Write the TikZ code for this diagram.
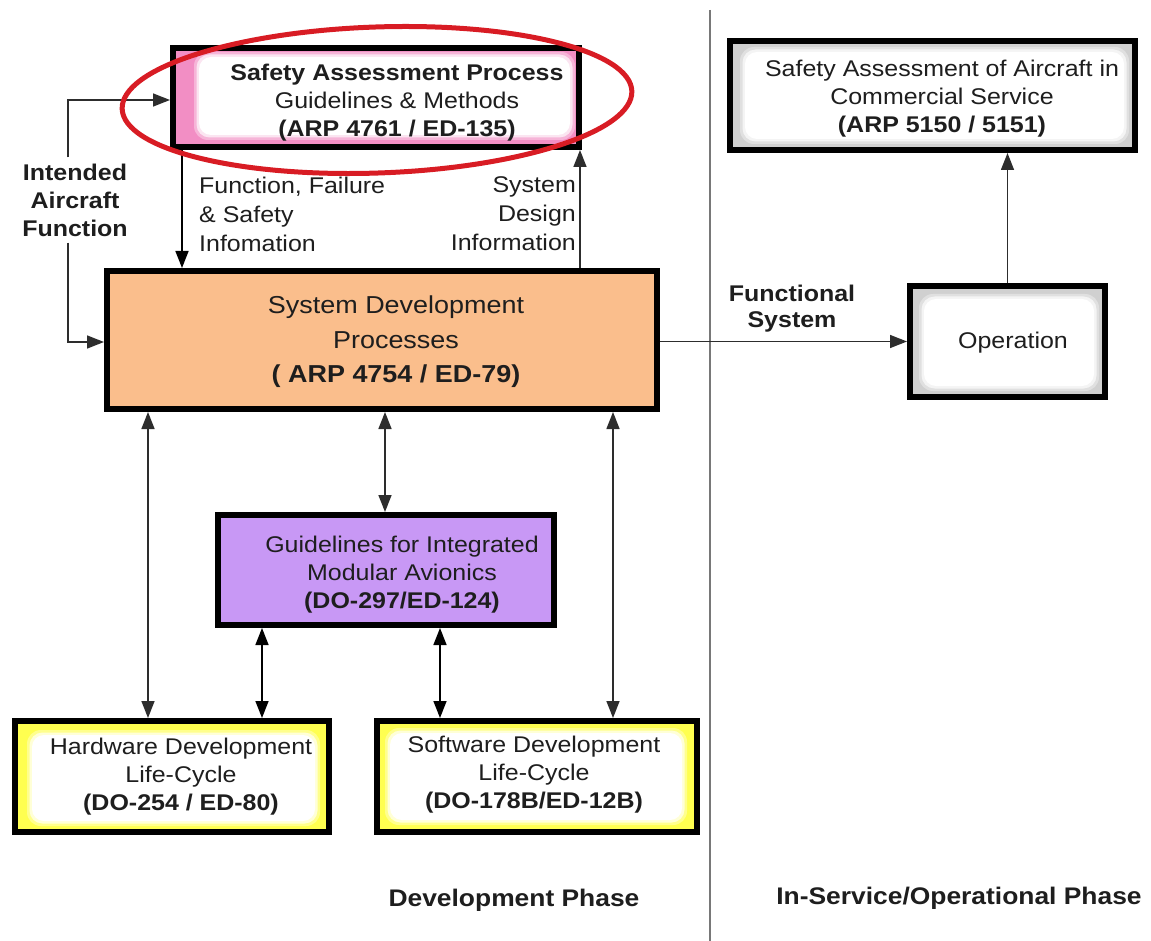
\documentclass[tikz,border=0pt]{standalone}
\usepackage{fontspec}
\setmainfont{Liberation Sans}[FakeStretch=1.1]
\usetikzlibrary{arrows.meta,calc}

\definecolor{sapfill}{RGB}{242,142,196}
\definecolor{sdpfill}{RGB}{250,190,140}
\definecolor{imafill}{RGB}{200,152,245}
\definecolor{lcfill}{RGB}{255,255,80}
\definecolor{svcfill}{RGB}{208,208,208}
\definecolor{ringred}{RGB}{216,28,36}
\definecolor{inkgray}{RGB}{30,30,30}
\definecolor{wiregray}{RGB}{45,45,45}
\definecolor{dividergray}{RGB}{120,120,120}

% white rounded panel with a soft edge; the last layer is fully white at the given inset
\newcommand\innerglow[5]{%
  \fill[white,opacity=0.35,rounded corners=14pt]
    ($(#1.north west)+(#2-5,#3-5)$) rectangle ($(#1.south east)+(-#4+5,-#5+5)$);
  \fill[white,opacity=0.65,rounded corners=13pt]
    ($(#1.north west)+(#2-2.5,#3-2.5)$) rectangle ($(#1.south east)+(-#4+2.5,-#5+2.5)$);
  \fill[white,rounded corners=12pt]
    ($(#1.north west)+(#2,#3)$) rectangle ($(#1.south east)+(-#4,-#5)$);
}

\newcommand\txt{\fontsize{22.7}{28}\selectfont}
\newcommand\bigtxt{\fontsize{24.5}{34.5}\selectfont}

\tikzset{
  box/.style={draw=black, line width=6pt, inner sep=0pt},
  label/.style={text=inkgray, align=center, inner sep=0pt, font=\txt},
  conn/.style={draw=wiregray, line width=1.5pt},
  arr/.style={conn, -{Triangle[length=17pt,width=13pt]}},
  darr/.style={conn, {Triangle[length=17pt,width=13pt]}-{Triangle[length=17pt,width=13pt]}},
}

\begin{document}
\begin{tikzpicture}[x=1pt,y=-1pt]
\useasboundingbox (0,0) rectangle (1151,941);

% phase divider
\draw[dividergray, line width=1.8pt] (710,10) -- (710,941);

% boxes
\node[box, fill=sapfill, minimum width=406pt, minimum height=99pt] (sap) at (376,97.5) {};
\innerglow{sap}{29}{12}{12}{15}
\node[label] (saptext) at (397,103)
  {\textbf{Safety Assessment Process}\\Guidelines \& Methods\\\textbf{(ARP 4761 / ED-135)}};

\node[box, fill=sdpfill, minimum width=550pt, minimum height=138pt] (sdp) at (382,340) {};
\node[label, font=\bigtxt] (sdptext) at (396,342)
  {System Development\\Processes\\\textbf{( ARP 4754 / ED-79)}};

\node[box, fill=imafill, minimum width=336pt, minimum height=110pt] (ima) at (386,570) {};
\node[label] (imatext) at (402,575)
  {Guidelines for Integrated\\Modular Avionics\\\textbf{(DO-297/ED-124)}};

\node[box, fill=lcfill, minimum width=314pt, minimum height=111pt] (hw) at (172,776.5) {};
\innerglow{hw}{20}{17}{17}{14}
\node[label] (hwtext) at (181,777)
  {Hardware Development\\Life-Cycle\\\textbf{(DO-254 / ED-80)}};

\node[box, fill=lcfill, minimum width=320pt, minimum height=111pt] (sw) at (537,776.5) {};
\innerglow{sw}{16}{15}{18}{15}
\node[label] (swtext) at (534,775)
  {Software Development\\Life-Cycle\\\textbf{(DO-178B/ED-12B)}};

\node[box, fill=svcfill, minimum width=405pt, minimum height=109pt] (saacs) at (932.5,95.5) {};
\innerglow{saacs}{18}{14}{14}{14}
\node[label] (saacstext) at (942,99)
  {Safety Assessment of Aircraft in\\Commercial Service\\\textbf{(ARP 5150 / 5151)}};

\node[box, fill=svcfill, minimum width=195pt, minimum height=111pt] (op) at (1007.5,341.5) {};
\innerglow{op}{17}{16}{14}{14}
\node[label] (optext) at (1013,343) {Operation};

% free labels
\node[label, font=\txt\bfseries] (iaf) at (75,200) {Intended\\Aircraft\\Function};
\node[label, align=left, anchor=west, font=\fontsize{22.7}{29}\selectfont] (ffs) at (199,214)
  {Function, Failure\\\& Safety\\Infomation};
\node[label, align=right, anchor=east, font=\fontsize{22.7}{29}\selectfont] (sdi) at (576,214)
  {System\\Design\\Information};
\node[label, font=\fontsize{22.7}{26}\selectfont\bfseries] (fsys) at (792,309) {Functional\\System};
\node[label, font=\fontsize{24}{28}\selectfont\bfseries] (devph) at (514,900) {Development Phase};
\node[label, font=\fontsize{24}{28}\selectfont\bfseries] (svcph) at (959,898) {In-Service/Operational Phase};

% anchor columns for the connectors
\coordinate (iatop) at (68,100);
\coordinate (iabot) at (68,342);
\coordinate (ffx) at (182,0);
\coordinate (sdx) at (580,0);
\coordinate (cx148) at (148,0);
\coordinate (cx262) at (262,0);
\coordinate (cx385) at (385,0);
\coordinate (cx440) at (440,0);
\coordinate (cx613) at (613,0);

% intended aircraft function feed
\draw[arr] (iaf.north -| iatop) ++(0,-6) -- (iatop) -- (iatop -| sap.west);
\draw[arr] (iaf.south -| iatop) ++(0,6) -- (iabot) -- (iabot -| sdp.west);

% safety assessment exchange
\draw[arr, draw=black] (sap.south -| ffx) -- (sdp.north -| ffx);
\draw[arr] (sdp.north -| sdx) -- (sap.south -| sdx);

% into service
\draw[arr] (sdp.east |- op.west) -- (op.west);
\draw[arr] (op.north) -- (op.north |- saacs.south);

% development links
\draw[darr] (sdp.south -| cx385) -- (ima.north -| cx385);
\draw[darr] (sdp.south -| cx148) -- (hw.north -| cx148);
\draw[darr, draw=black] (ima.south -| cx262) -- (hw.north -| cx262);
\draw[darr, draw=black] (ima.south -| cx440) -- (sw.north -| cx440);
\draw[darr] (sdp.south -| cx613) -- (sw.north -| cx613);

% highlight ring
\draw[ringred, line width=5pt, rotate around={2:(377,100)}] (377,100) ellipse [x radius=255, y radius=73];
\end{tikzpicture}
\end{document}
